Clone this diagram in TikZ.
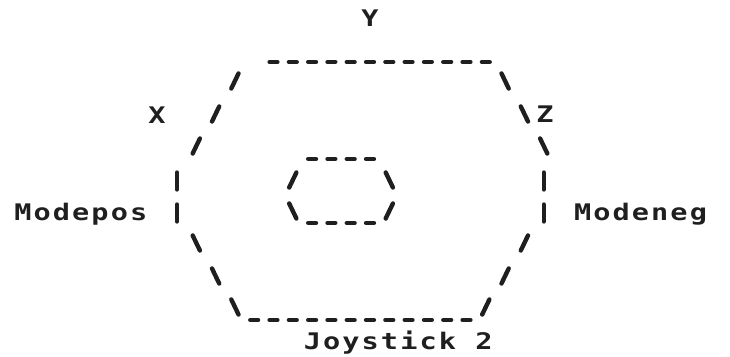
\documentclass[tikz,border=0pt]{standalone}
\usepackage{fontspec}
\setmonofont{DejaVu Sans Mono}
\tikzset{
  ink/.style={line width=2.5pt, line cap=round, black!88},
  lbl/.style={font=\ttfamily\bfseries\fontsize{13}{13}\selectfont\addfontfeature{FakeStretch=1.25,LetterSpace=9.2},
    inner sep=0pt, text=black!88}
}

\begin{document}
\begin{tikzpicture}[x=0.02cm, y=-0.02cm]

\useasboundingbox (0,0) rectangle (730,357);

% labels
\node[lbl, anchor=base] (ylbl) at (370,27) {Y};
\node[lbl, anchor=base] (xlbl) at (157,124) {X};
\node[lbl, anchor=base] (zlbl) at (545,123) {Z};
\node[lbl, anchor=base west] (modepos) at (14,221) {Modepos};
\node[lbl, anchor=base west] (modeneg) at (573.7,221) {Modeneg};
\node[lbl, anchor=base west] (joystick) at (303.5,350) {Joystick 2};

% outer hexagon, top and bottom rows
\foreach \c in {13,...,24}
  \draw[ink] ({22.6+19.3*\c-3.9},62) -- ++(7.8,0);
\foreach \c in {12,...,23}
  \draw[ink] ({22.6+19.3*\c-3.9},320) -- ++(7.8,0);

% outer hexagon, slanted sides
\foreach \c/\r in {11/81, 10/114, 9/146, 24/307, 25/276, 26/243}
  \draw[ink] ({22.6+19.3*\c-3.6},\r+7.5) -- ++(7.2,-15);
\foreach \c/\r in {25/81, 26/114, 27/146, 9/243, 10/276, 11/307}
  \draw[ink] ({22.6+19.3*\c-3.6},\r-7.5) -- ++(7.2,15);

% outer hexagon, upright sides
\foreach \c/\r in {8/181, 8/213, 27/181, 27/213}
  \draw[ink] ({22.6+19.3*\c},\r-8.5) -- ++(0,17);

% inner hexagon
\foreach \c in {15,...,18} {
  \draw[ink] ({22.6+19.3*\c-3.9},159) -- ++(7.8,0);
  \draw[ink] ({22.6+19.3*\c-3.9},223) -- ++(7.8,0);
}
\foreach \c/\r in {14/180, 19/211}
  \draw[ink] ({22.6+19.3*\c-3.6},\r+7.5) -- ++(7.2,-15);
\foreach \c/\r in {19/180, 14/211}
  \draw[ink] ({22.6+19.3*\c-3.6},\r-7.5) -- ++(7.2,15);

\end{tikzpicture}
\end{document}
